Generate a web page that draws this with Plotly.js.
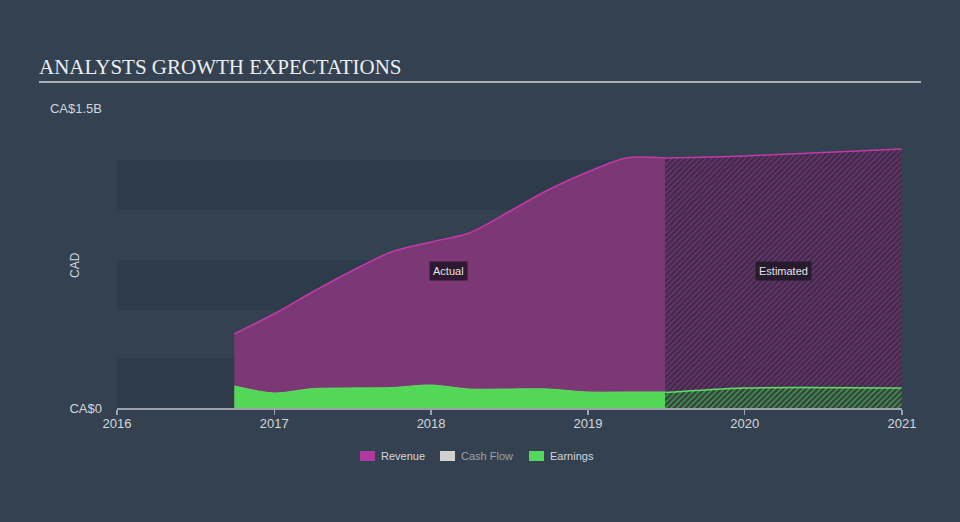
<!DOCTYPE html>
<html>
<head>
<meta charset="utf-8">
<script src="https://cdn.plot.ly/plotly-3.0.1.min.js"></script>
<style>html,body{margin:0;padding:0;background:#334150;}#chart{width:960px;height:522px;}</style>
</head>
<body>
<div id="chart"></div>
<script>
// Actual data (quarterly)
const actualDates = ['2016-09-30','2016-12-31','2017-03-31','2017-06-30','2017-09-30','2017-12-31','2018-03-31','2018-06-30','2018-09-30','2018-12-31','2019-03-31','2019-06-30'];
const revenueActual = [0.37e9,0.47e9,0.58e9,0.685e9,0.78e9,0.83e9,0.875e9,0.98e9,1.09e9,1.18e9,1.25e9,1.25e9];
const earningsActual = [0.11e9,0.075e9,0.097e9,0.10e9,0.102e9,0.115e9,0.095e9,0.095e9,0.095e9,0.08e9,0.08e9,0.08e9];
// Estimates
const estDates = ['2019-06-30','2019-12-31','2020-12-31'];
const revenueEst = [1.25e9,1.26e9,1.295e9];
const earningsEst = [0.077e9,0.10e9,0.10e9];
// Axis labels
const yTickVals = [0,1.5e9];
const yTickText = ['CA$0','CA$1.5B'];
const bandRanges = [[0,0.25e9],[0.49e9,0.74e9],[0.99e9,1.24e9]];
// Legend
const legendNames = ['Revenue','Cash Flow','Earnings'];
const legendColors = ['#b0399f','#d0d0d0','#52d85a'];
const legendTextColors = ['#d3d7dc','#9aa3ad','#d3d7dc'];

const revLine = '#c13aa8', revFill = '#7b3875';
const earnLine = '#5be060', earnFill = '#52d756';

const traces = [
  {x: actualDates, y: revenueActual, type:'scatter', mode:'lines', fill:'tozeroy',
   line:{color:revLine, width:1.5, shape:'spline', smoothing:0.8}, fillcolor:revFill, showlegend:false, hoverinfo:'skip'},
  {x: estDates, y: revenueEst, type:'scatter', mode:'lines', fill:'tozeroy',
   line:{color:revLine, width:1.5, shape:'spline', smoothing:0.8}, fillcolor:'#3e2d4a',
   fillpattern:{shape:'/', fgcolor:'#7a3477', bgcolor:'#3e2c4a', size:4, solidity:0.3}, showlegend:false, hoverinfo:'skip'},
  {x: actualDates, y: earningsActual, type:'scatter', mode:'lines', fill:'tozeroy',
   line:{color:earnLine, width:1, shape:'spline', smoothing:0.8}, fillcolor:earnFill, showlegend:false, hoverinfo:'skip'},
  {x: estDates, y: earningsEst, type:'scatter', mode:'lines', fill:'tozeroy',
   line:{color:earnLine, width:1.5, shape:'spline', smoothing:0.8}, fillcolor:'#2f4a3c',
   fillpattern:{shape:'/', fgcolor:'#4aa84f', bgcolor:'#34433f', size:4, solidity:0.3}, showlegend:false, hoverinfo:'skip'}
];

const shapes = bandRanges.map(r => ({type:'rect', xref:'x', yref:'y', x0:'2016-01-01', x1:'2021-01-01', y0:r[0], y1:r[1],
  fillcolor:'#2e3b4b', line:{width:0}, layer:'below'}));
shapes.push({type:'line', xref:'paper', yref:'paper', x0:(39-117)/785, x1:(921-117)/785, y0:(408-82)/300, y1:(408-82)/300,
  line:{color:'#a9aeb5', width:2}});

// manual legend (layout only)
const legendSwatchX = [360, 440, 529];
const annotations = [
  {text:'Actual', xref:'paper', yref:'paper', x:(448-117)/785, y:(408-271)/300, xanchor:'center', yanchor:'middle', showarrow:false,
   font:{size:11, color:'#e6e0e8'}, bgcolor:'#2d1a30', borderpad:3},
  {text:'Estimated', xref:'paper', yref:'paper', x:(783-117)/785, y:(408-271)/300, xanchor:'center', yanchor:'middle', showarrow:false,
   font:{size:11, color:'#e6e0e8'}, bgcolor:'#261b2c', borderpad:3},
  {text:'CAD', xref:'paper', yref:'paper', x:(75-117)/785, y:(408-265)/300, xanchor:'center', yanchor:'middle', showarrow:false,
   textangle:-90, font:{size:12, color:'#d3d7dc'}}
];
legendNames.forEach((n,i) => {
  const sx = legendSwatchX[i];
  shapes.push({type:'rect', xref:'paper', yref:'paper', x0:(sx-117)/785, x1:(sx+15-117)/785, y0:(408-461)/300, y1:(408-451)/300,
    fillcolor:legendColors[i], line:{width:0}});
  annotations.push({text:n, xref:'paper', yref:'paper', x:(sx+19-117)/785, y:(408-456)/300, xanchor:'left', yanchor:'middle',
    showarrow:false, font:{size:11, color:legendTextColors[i]}});
});

const layout = {
  width:960, height:522,
  paper_bgcolor:'#334150', plot_bgcolor:'rgba(0,0,0,0)',
  margin:{l:117, r:58, t:108, b:114},
  font:{family:'"Liberation Sans", Arial, sans-serif', color:'#d3d7dc'},
  title:{text:'ANALYSTS GROWTH EXPECTATIONS', font:{family:'"Liberation Serif", "Times New Roman", serif', size:21, color:'#eceef0'},
    x:39/960, xanchor:'left', xref:'container', yref:'container', y:1-67/522, yanchor:'middle'},
  xaxis:{type:'date', range:['2016-01-01','2021-01-01'], showgrid:false, zeroline:false,
    showline:true, linecolor:'#9aa3ae', linewidth:1.5, ticks:'outside', ticklen:5, tickcolor:'#9aa3ae', tickwidth:1.5,
    dtick:'M12', tick0:'2016-01-01', tickformat:'%Y', tickfont:{size:13, color:'#d5d8dc'}, ticklabelstandoff:-2, fixedrange:true},
  yaxis:{range:[0,1.5e9], tickvals:yTickVals, ticktext:yTickText, showgrid:false, zeroline:false, showline:false,
    ticks:'', tickfont:{size:13, color:'#d3d7dc'}, ticklabelstandoff:14, fixedrange:true},
  showlegend:false,
  shapes: shapes,
  annotations: annotations
};

Plotly.newPlot('chart', traces, layout, {displayModeBar:false, staticPlot:true});
</script>
</body>
</html>
